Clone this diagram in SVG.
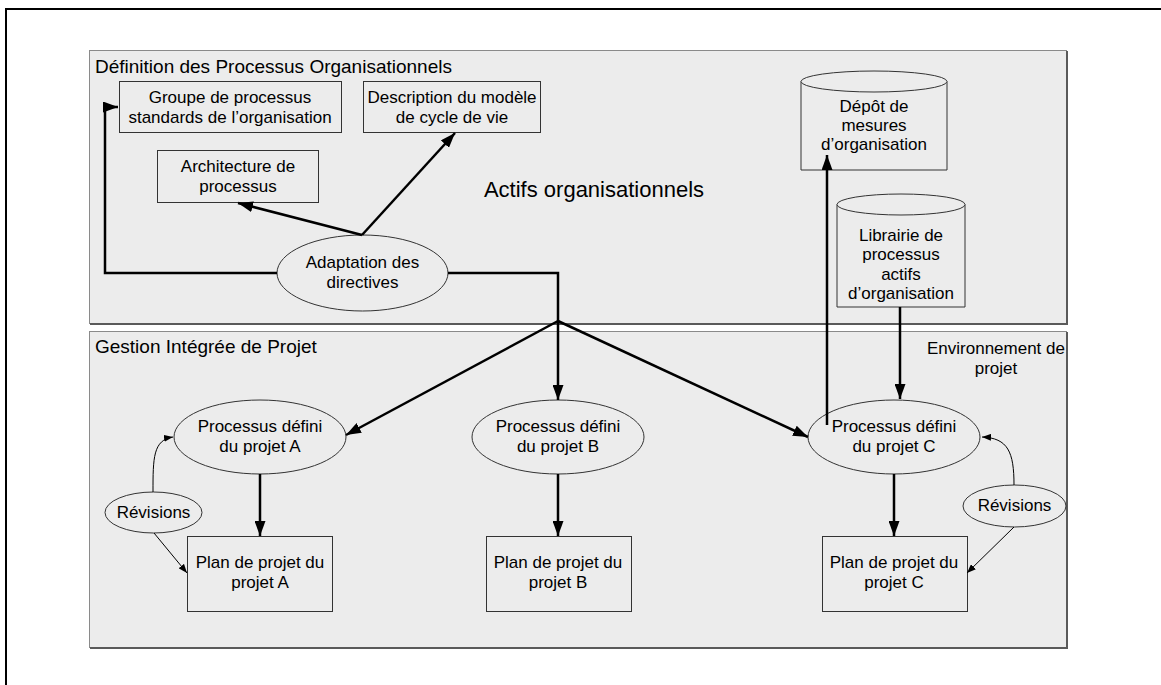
<svg xmlns="http://www.w3.org/2000/svg" width="1161" height="685" viewBox="0 0 1161 685">
<style>
text{font-family:"Liberation Sans",Arial,sans-serif;fill:#000}
.t{font-size:17px;text-anchor:middle}
.panel{fill:#ececec;stroke:#8a8a8a;stroke-width:1}
.shadow{stroke:#5a5a5a;stroke-width:2;fill:none}
.node{fill:#ececec;stroke:#333;stroke-width:1}
.thick{fill:none;stroke:#000;stroke-width:2.5}
.thin{fill:none;stroke:#000;stroke-width:1}
</style>
<defs>
<marker id="big" markerUnits="userSpaceOnUse" markerWidth="15" markerHeight="11" refX="15" refY="5.5" orient="auto"><path d="M0,0 L15,5.5 L0,11 z" fill="#000"/></marker>
<marker id="small" markerUnits="userSpaceOnUse" markerWidth="9" markerHeight="7" refX="9" refY="3.5" orient="auto"><path d="M0,0 L9,3.5 L0,7 z" fill="#000"/></marker>
</defs>
<rect x="0" y="0" width="1161" height="685" fill="#fff"/>
<rect x="6" y="9" width="1200" height="700" fill="none" stroke="#000" stroke-width="2"/>

<g id="panel-top">
<rect class="panel" x="89.5" y="50.5" width="977" height="273"/>
<path class="shadow" d="M1067,51 V324 H90"/>
<text x="95" y="73" font-size="19">Définition des Processus Organisationnels</text>
<text x="594" y="197" font-size="22" text-anchor="middle">Actifs organisationnels</text>
</g>
<g id="panel-bottom">
<rect class="panel" x="89.5" y="331.5" width="977" height="316"/>
<path class="shadow" d="M1067,332 V648 H90"/>
<text x="95" y="353" font-size="19">Gestion Intégrée de Projet</text>
<text class="t" x="996" y="354">Environnement de</text>
<text class="t" x="996" y="374">projet</text>
</g>

<g id="groupe">
<rect class="node" x="119.5" y="81.5" width="222" height="51"/>
<text class="t" x="230" y="103">Groupe de processus</text>
<text class="t" x="230" y="123">standards de l’organisation</text>
</g>
<g id="description">
<rect class="node" x="363.5" y="81.5" width="177" height="51"/>
<text class="t" x="452" y="103">Description du modèle</text>
<text class="t" x="452" y="123">de cycle de vie</text>
</g>
<g id="architecture">
<rect class="node" x="157.5" y="150.5" width="161" height="52"/>
<text class="t" x="238" y="172">Architecture de</text>
<text class="t" x="238" y="192">processus</text>
</g>
<g id="adaptation">
<ellipse class="node" cx="362.5" cy="273" rx="85.5" ry="38"/>
<text class="t" x="362.5" y="268">Adaptation des</text>
<text class="t" x="362.5" y="288">directives</text>
</g>
<g id="depot">
<path class="node" d="M801,81.5 V170 H947 V81.5"/>
<ellipse class="node" cx="874" cy="81.5" rx="73" ry="10.5"/>
<text class="t" x="874" y="112">Dépôt de</text>
<text class="t" x="874" y="131">mesures</text>
<text class="t" x="874" y="150">d’organisation</text>
</g>
<g id="librairie">
<path class="node" d="M837,204.5 V307 H965 V204.5"/>
<ellipse class="node" cx="901" cy="204.5" rx="64" ry="10.5"/>
<text class="t" x="901" y="241">Librairie de</text>
<text class="t" x="901" y="260">processus</text>
<text class="t" x="901" y="280">actifs</text>
<text class="t" x="901" y="299">d’organisation</text>
</g>
<g id="proc-a">
<ellipse class="node" cx="260" cy="437" rx="86" ry="37"/>
<text class="t" x="260" y="432">Processus défini</text>
<text class="t" x="260" y="452">du projet A</text>
</g>
<g id="proc-b">
<ellipse class="node" cx="558" cy="437" rx="86" ry="37"/>
<text class="t" x="558" y="432">Processus défini</text>
<text class="t" x="558" y="452">du projet B</text>
</g>
<g id="proc-c">
<ellipse class="node" cx="894" cy="437" rx="86" ry="37"/>
<text class="t" x="894" y="432">Processus défini</text>
<text class="t" x="894" y="452">du projet C</text>
</g>
<g id="plan-a">
<rect class="node" x="187.5" y="536.5" width="145" height="75"/>
<text class="t" x="260" y="568">Plan de projet du</text>
<text class="t" x="260" y="588">projet A</text>
</g>
<g id="plan-b">
<rect class="node" x="486.5" y="536.5" width="145" height="75"/>
<text class="t" x="558" y="568">Plan de projet du</text>
<text class="t" x="558" y="588">projet B</text>
</g>
<g id="plan-c">
<rect class="node" x="822.5" y="536.5" width="145" height="75"/>
<text class="t" x="894" y="568">Plan de projet du</text>
<text class="t" x="894" y="588">projet C</text>
</g>
<g id="revisions-a">
<ellipse class="node" cx="153.5" cy="512.5" rx="48.5" ry="20.5"/>
<text class="t" x="153.5" y="518">Révisions</text>
</g>
<g id="revisions-c">
<ellipse class="node" cx="1014.5" cy="506" rx="51.5" ry="21"/>
<text class="t" x="1014.5" y="511">Révisions</text>
</g>

<g id="connectors">
<polyline class="thick" points="277,273 105,273 105,107 118,107" marker-end="url(#big)"/>
<line class="thick" x1="362" y1="235" x2="238" y2="203" marker-end="url(#big)"/>
<line class="thick" x1="362" y1="235" x2="455" y2="133" marker-end="url(#big)"/>
<polyline class="thick" points="448,273 558,273 558,400" marker-end="url(#big)"/>
<line class="thick" x1="558" y1="321" x2="346" y2="435" marker-end="url(#big)"/>
<line class="thick" x1="558" y1="321" x2="808" y2="437" marker-end="url(#big)"/>
<line class="thick" x1="900" y1="307" x2="900" y2="399" marker-end="url(#big)"/>
<line class="thick" x1="827" y1="425" x2="827" y2="155" marker-end="url(#big)"/>
<line class="thick" x1="260" y1="474" x2="260" y2="536" marker-end="url(#big)"/>
<line class="thick" x1="558" y1="474" x2="558" y2="536" marker-end="url(#big)"/>
<line class="thick" x1="894" y1="474" x2="894" y2="536" marker-end="url(#big)"/>
<path class="thin" d="M153,492 C153,458 153,440 173,437" marker-end="url(#small)"/>
<line class="thin" x1="154" y1="533" x2="187" y2="573" marker-end="url(#small)"/>
<path class="thin" d="M1014,485 C1014,452 1008,438 982,437" marker-end="url(#small)"/>
<line class="thin" x1="1014" y1="527" x2="967" y2="573" marker-end="url(#small)"/>
</g>
</svg>
